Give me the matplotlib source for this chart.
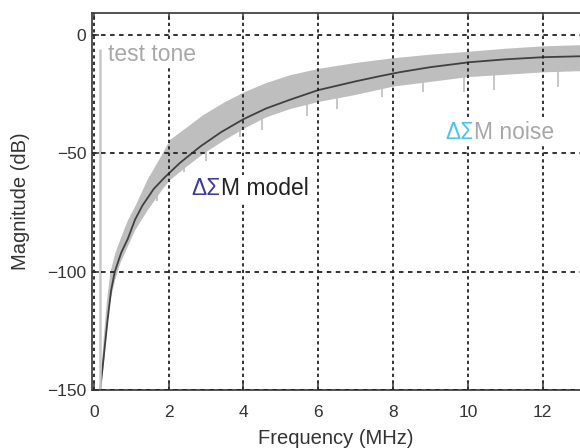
import matplotlib.pyplot as plt
import numpy as np

plt.rcParams['font.family'] = ['Liberation Sans', 'DejaVu Sans']

# noise-shaping model curve (MHz, dB)
model_f = [0.17, 0.27, 0.37, 0.46, 0.56, 0.73, 0.91, 1.1, 1.3, 1.6, 1.9, 2.3, 2.85,
           3.4, 4.0, 4.6, 5.24, 6.0, 7.0, 7.65, 8.19, 9.0, 10.05, 11.0, 12.0, 13.0]
model_db = [-150, -135, -120, -108, -100, -92, -86, -78, -72, -65, -60, -54, -47,
            -41, -35.5, -31, -27.3, -23.2, -19.5, -17.3, -15.6, -13.5, -11.4,
            -10.2, -9.3, -8.9]

# measured noise spectrum: upper and lower envelope
noise_f = [0.15, 0.25, 0.33, 0.43, 0.56, 0.7, 0.9, 1.1, 1.42, 1.82, 2.03, 2.5,
           2.91, 3.5, 4.04, 4.6, 5.24, 6.0, 7.0, 8.0, 9.0, 10.0, 11.0, 12.0, 13.0]
noise_hi = [-150, -128, -113, -100, -92, -86, -78, -72, -61, -50, -44, -38.5,
            -33.6, -28, -23.7, -20, -16.7, -14, -11.5, -9.5, -8, -6.8, -5.5,
            -4.5, -4]
noise_lo = [-150, -140, -125, -112, -103, -96, -89, -82, -74, -65, -61, -55,
            -50, -44, -39, -34.5, -31, -28, -25, -21.5, -19.5, -17.5, -16.5,
            -15.5, -15]

# deep downward spikes in the noise trace
spike_f = [1.7, 2.4, 3.0, 3.9, 4.5, 5.7, 6.5, 7.7, 8.8, 9.9, 10.7, 12.4]
spike_db = [-70, -58, -53, -43, -40, -34, -31, -26, -24, -24, -23, -22]

tone_f = 0.17
tone_db = -6

fig = plt.figure(figsize=(5.8, 4.48), dpi=100)
ax = fig.add_axes([0.1586, 0.1295, 0.8414, 0.8415])

band_col = '#bebebe'
ax.fill_between(noise_f, noise_lo, noise_hi, color=band_col, lw=0)
ax.vlines(spike_f, np.interp(spike_f, noise_f, noise_lo) + 1, spike_db,
          color=band_col, lw=1.2)
ax.plot(model_f, model_db, color='#404040', lw=1.3)
ax.vlines([tone_f], -150, tone_db, color='#c8c8c8', lw=1.8)

ax.set_xlim(-0.05, 13)
ax.set_ylim(-150, 9.4)
ax.set_xticks(np.arange(0, 13, 2))
ax.set_yticks([0, -50, -100, -150])
ax.set_yticklabels(['0', '\u221250', '\u2212100', '\u2212150'])
ax.tick_params(direction='in', top=True, length=5, width=1.1, color='#333333',
               labelsize=12.5, labelcolor='#333333', pad=4)
ax.tick_params(axis='x', pad=11)
ax.xaxis.grid(True, color='#222222', ls=(0, (1.8, 1.8)), lw=1.3)
ax.yaxis.grid(True, color='#222222', ls=(0, (2.5, 2.5)), lw=1.3)
ax.set_axisbelow(False)
for side in ['left', 'bottom', 'top']:
    ax.spines[side].set_color('#444444')
    ax.spines[side].set_linewidth(1.3)
ax.spines['right'].set_visible(False)

ax.set_xlabel('Frequency (MHz)', fontsize=14.5, color='#333333')
ax.set_ylabel('Magnitude (dB)', fontsize=14.5, color='#333333')
ax.xaxis.set_label_coords(0.5, -0.103)
ax.yaxis.set_label_coords(-0.128, 0.5)

box = dict(facecolor='white', edgecolor='none', pad=1.5)

ax.text(0.37, -8.3, 'test tone', fontsize=16.5, color='#a8a8a8', va='center',
        bbox=box, zorder=5)


def two_tone(x, y, first, first_col, rest, rest_col):
    t = ax.text(x, y, first, fontsize=16.5, color=first_col, va='center',
                bbox=box, zorder=5)
    fig.canvas.draw()
    bb = t.get_window_extent()
    x_end = ax.transData.inverted().transform((bb.x1, bb.y0))[0]
    ax.text(x_end, y, rest, fontsize=16.5, color=rest_col, va='center',
            bbox=box, zorder=5)


two_tone(9.39, -41, '\u0394\u03a3', '#4fc1ef', 'M noise', '#a8a8a8')
two_tone(2.62, -65, '\u0394\u03a3', '#3a3aa0', 'M model', '#222222')

fig.savefig('out.png', dpi=100)
